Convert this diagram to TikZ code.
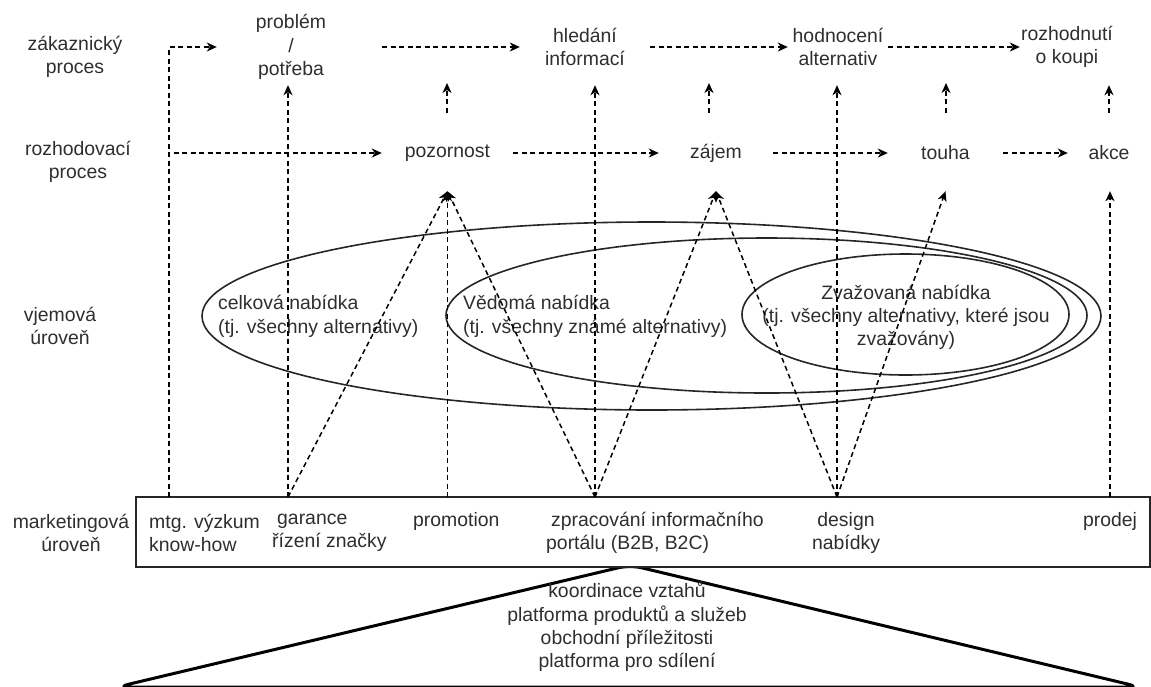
\documentclass[tikz,border=0pt]{standalone}
\usepackage{fontspec}
\setmainfont{Liberation Sans}
\usetikzlibrary{arrows.meta,calc}
\begin{document}
\begin{tikzpicture}[x=1pt,y=-1pt,
  every node/.style={font=\fontsize{19.4}{23.3}\selectfont, text=black!82, inner sep=0pt, align=center},
  stage/.style={minimum height=76pt},
  flow/.style={draw=black, line width=1.5pt, dash pattern=on 5pt off 3.5pt,
    -{Stealth[length=10pt,width=9pt,inset=3pt]}},
  ring/.style={draw=black!85, line width=1.6pt},
  itemtext/.style={anchor=west, align=left},
]
\useasboundingbox (0,0) rectangle (1151,686);

% base of the marketing level: rounded triangle
\draw[line width=3pt, line join=round, rounded corners=12pt]
  (117,687) -- (630,565) -- (1140,687) -- cycle;

% marketing level box
\node[draw=black!85, fill=white, line width=1.5pt, minimum width=1014pt, minimum height=70pt] (mkt) at (643,532) {};

% row labels
\node (lz) at (75,57) {zákaznický\\proces};
\node (lr) at (78,162) {rozhodovací\\proces};
\node (lv) at (60,326) {vjemová\\úroveň};
\node (lm) at (71,533) {marketingová\\úroveň};

% customer process
\node[stage, minimum width=148pt] (prob) at (291,47) {problém\\/\\potřeba};
\node[stage, minimum width=130pt] (hled) at (585,47) {hledání\\informací};
\node[stage, minimum width=100pt] (hodn) at (838,47) {hodnocení\\alternativ};
\node[stage, minimum width=94pt] (rozh) at (1067,47) {rozhodnutí\\o koupi};

% decision process
\node[stage, minimum width=131pt] (poz) at (447.5,153) {pozornost};
\node[stage, minimum width=114pt] (zaj) at (716,153) {zájem};
\node[stage, minimum width=115pt] (tou) at (945.5,153) {touha};
\node[stage, minimum width=82pt] (akce) at (1109,153) {akce};

% perception level: nested offers
\draw[ring] (651.5,316) ellipse [x radius=449.5pt, y radius=94pt];
\draw[ring] (766.5,315.5) ellipse [x radius=320.5pt, y radius=77.5pt];
\draw[ring] (905.5,314.5) ellipse [x radius=163.5pt, y radius=60.5pt];
\node[itemtext] (tAll) at (218,316.5) {celková nabídka\\(tj. všechny alternativy)};
\node[itemtext] (tKnown) at (463,316.5) {Vědomá nabídka\\(tj. všechny známé alternativy)};
\node (tCons) at (906,317.5) {Zvažovaná nabídka\\(tj. všechny alternativy, které jsou\\zvažovány)};

% marketing activities
\node[itemtext] (mtg) at (149,533) {mtg. výzkum\\know-how};
\node[itemtext] (gar) at (272,533) {\hspace*{5pt}garance\\řízení značky};
\node[anchor=west] (promo) at (413,521) {promotion};
\node[itemtext] (zpr) at (546,533) {\hspace*{5pt}zpracování informačního\\portálu (B2B, B2C)};
\node (des) at (846,533) {design\\nabídky};
\node (prod) at (1110,521) {prodej};

% triangle text
\node (base) at (627,627) {koordinace vztahů\\platforma produktů a služeb\\obchodní příležitosti\\platforma pro sdílení};

% connector origins on the top edge of the box
\coordinate (cMtg) at (169,497);
\coordinate (cGar) at (288,497);
\coordinate (cPromo) at (447.5,497);
\coordinate (cZpr) at (595,497);
\coordinate (cDes) at (837,497);
\coordinate (cProd) at (1110,497);

% free ends of the short upward arrows
\coordinate (u1) at (447,83);
\coordinate (u2) at (709,83);
\coordinate (u3) at (946,83);

% customer process flow
\draw[flow] (cMtg) |- (prob.west);
\draw[flow, shorten <=17pt] (prob.east) -- (hled.west);
\draw[flow] (hled) -- (hodn);
\draw[flow] (hodn) -- (rozh);

% decision process flow
\draw[flow] (cMtg) |- (poz.west);
\draw[flow] (poz) -- (zaj);
\draw[flow] (zaj) -- (tou);
\draw[flow] (tou) -- (akce);

% decision stage to customer process
\draw[flow, shorten <=2pt] (u1 |- poz.north) -- (u1);
\draw[flow, shorten <=2pt] (u2 |- zaj.north) -- (u2);
\draw[flow, shorten <=2pt] (u3 |- tou.north) -- (u3);
\draw[flow, shorten <=2pt] (akce.north) -- (akce.north |- rozh.south);

% marketing activities to the stages
\draw[flow] (cGar) -- (cGar |- prob.south);
\draw[flow] (cGar) -- (poz.south);
\draw[flow] (cPromo) -- (poz.south);
\draw[flow] (cZpr) -- (poz.south);
\draw[flow] (cZpr) -- (cZpr |- hled.south);
\draw[flow] (cZpr) -- (zaj.south);
\draw[flow] (cDes) -- (zaj.south);
\draw[flow] (cDes) -- (cDes |- hodn.south);
\draw[flow] (cDes) -- (tou.south);
\draw[flow] (cProd) -- (cProd |- akce.south);
\end{tikzpicture}
\end{document}
